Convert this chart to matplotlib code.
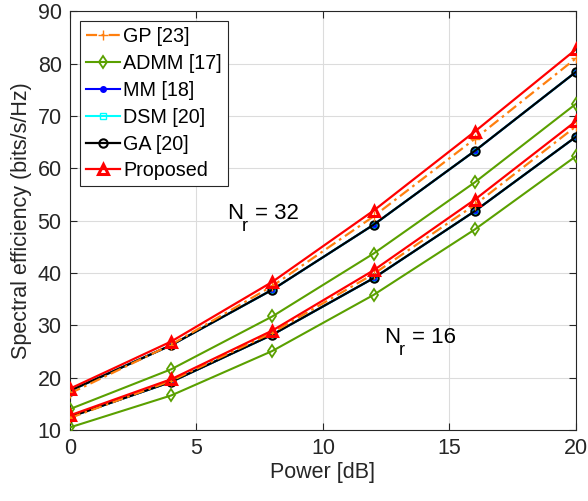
import matplotlib
matplotlib.use('Agg')
import matplotlib.pyplot as plt
from matplotlib.transforms import offset_copy

plt.rcParams['font.family'] = ['Liberation Sans', 'DejaVu Sans']

power = [0, 4, 8, 12, 16, 20]

# Nr = 32
gp_32 = [17.0, 26.3, 37.5, 50.8, 65.6, 81.0]
admm_32 = [14.0, 21.6, 31.7, 43.7, 57.3, 72.3]
ga_32 = [17.5, 26.2, 36.8, 49.2, 63.3, 78.4]
prop_32 = [17.9, 26.9, 38.3, 51.9, 67.0, 82.7]

# Nr = 16
gp_16 = [12.3, 19.4, 28.6, 39.8, 53.0, 68.0]
admm_16 = [10.5, 16.6, 25.1, 35.8, 48.3, 62.3]
ga_16 = [12.5, 19.2, 28.2, 39.0, 51.8, 66.0]
prop_16 = [12.8, 19.7, 29.0, 40.5, 54.0, 69.0]

fig = plt.figure(figsize=(5.88, 5.01), dpi=100)
ax = fig.add_axes([0.119, 0.1417, 0.8605, 0.836])

c_gp = '#FF7F0E'
c_admm = '#5AA000'
c_mm = '#0000FF'
c_dsm = '#00FFFF'
c_ga = '#000000'
c_prop = '#FF0000'

for gp, admm, ga, prop, lab in [(gp_32, admm_32, ga_32, prop_32, True),
                                 (gp_16, admm_16, ga_16, prop_16, False)]:
    ax.plot(power, gp, '-.', color=c_gp, marker='+', ms=7, lw=1.6, dashes=(5, 2, 1.2, 2),
            label='GP [23]' if lab else None, zorder=4)
    ax.plot(power, admm, '-', color=c_admm, marker='d', ms=6, mfc='none', mew=1.3, lw=1.5,
            label='ADMM [17]' if lab else None, zorder=3)
    ax.plot(power, ga, '-', color=c_mm, marker='o', ms=4, lw=1.5,
            label='MM [18]' if lab else None, zorder=2)
    ax.plot(power, ga, '-', color=c_dsm, marker='s', ms=5, mfc='none', lw=1.5,
            label='DSM [20]' if lab else None, zorder=2)
    ax.plot(power, ga, '-', color=c_ga, marker='o', ms=6, mfc='none', mew=1.5, lw=1.6,
            label='GA [20]' if lab else None, zorder=3)
    ax.plot(power, prop, '-', color=c_prop, marker='^', ms=7, mfc='none', mew=2.2, lw=1.6,
            label='Proposed' if lab else None, zorder=5)

ax.set_xlim(0, 20)
ax.set_ylim(10, 90)
ax.set_xticks([0, 5, 10, 15, 20])
ax.set_yticks(range(10, 91, 10))
ax.grid(True, color='#dcdcdc', lw=0.8)
ax.set_axisbelow(True)
ax.tick_params(direction='in', labelsize=15.5, colors='#262626', top=True, right=True,
               length=5, pad=6)
for s in ax.spines.values():
    s.set_color('#262626')
    s.set_linewidth(0.8)

ax.set_xlabel('Power [dB]', fontsize=15.5, color='#262626', labelpad=2)
ax.set_ylabel('Spectral efficiency (bits/s/Hz)', fontsize=15.5, color='#262626', labelpad=4)

# N_r labels, MATLAB style subscript (lower than mathtext)
for x, y, num in [(6.2, 50.3, '32'), (12.4, 26.6, '16')]:
    ax.text(x, y, 'N', fontsize=16, va='baseline')
    ax.text(x, y, 'r', fontsize=13, va='baseline',
            transform=offset_copy(ax.transData, fig=fig, x=15, y=-12, units='dots'))
    ax.text(x, y, '= ' + num, fontsize=16, va='baseline',
            transform=offset_copy(ax.transData, fig=fig, x=28, y=0, units='dots'))

leg = ax.legend(loc='upper left', fontsize=14.2, fancybox=False, edgecolor='#262626',
                framealpha=1, handlelength=1.75, handletextpad=0.15, borderpad=0.3,
                labelspacing=0.4, borderaxespad=0.5)
leg.get_frame().set_linewidth(0.8)

fig.savefig('out.png', dpi=100)
